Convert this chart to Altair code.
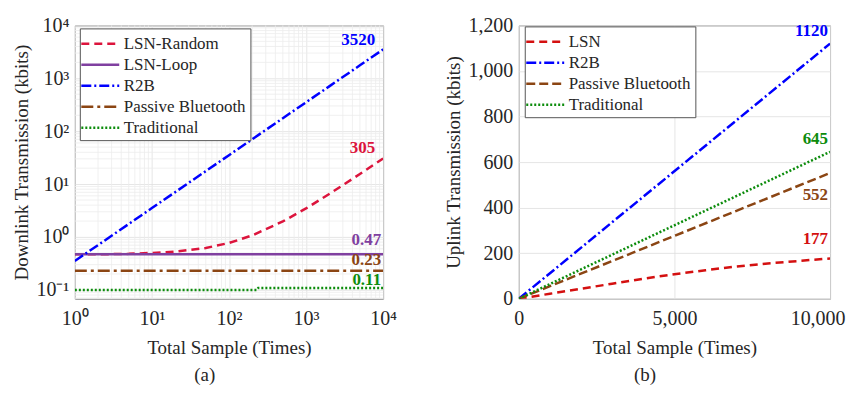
import altair as alt
import pandas as pd

FONT = "Liberation Serif"
TXT = "#262626"

# ---------------- Panel (a): downlink, log-log ----------------
a_series = ["LSN-Random", "LSN-Loop", "R2B", "Passive Bluetooth", "Traditional"]
a_colors = ["#dc143c", "#8040a0", "#0000ff", "#8b4513", "#0c8c0c"]
a_dashes = [[8, 5], [1, 0], [10, 3, 2, 3], [12, 4, 3, 4], [2, 2]]

a_n = [1, 2, 5, 10, 20, 50, 100, 200, 500, 1000, 2000, 5000, 10000]
a_lsn_random = [0.47, 0.47, 0.48, 0.50, 0.53, 0.62, 0.77, 1.07, 1.97, 3.47, 6.5, 15.5, 30.5]
a_lsn_loop = [0.47, 0.47, 0.47, 0.47, 0.47, 0.47, 0.47, 0.47, 0.47, 0.47, 0.47, 0.47, 0.47]
a_r2b = [0.352, 0.704, 1.76, 3.52, 7.04, 17.6, 35.2, 70.4, 176, 352, 704, 1760, 3520]
a_passive = [0.23, 0.23, 0.23, 0.23, 0.23, 0.23, 0.23, 0.23, 0.23, 0.23, 0.23, 0.23, 0.23]
a_trad_n = [1, 10, 100, 230, 240, 1000, 10000]
a_trad = [0.100, 0.100, 0.100, 0.100, 0.109, 0.109, 0.109]
a_end_labels = ["305", "0.47", "3520", "0.23", "0.11"]

a_major = [0.1, 1, 10, 100, 1000, 10000]
a_minor_x = [2, 3, 4, 5, 6, 7, 8, 9, 20, 30, 40, 50, 60, 70, 80, 90,
             200, 300, 400, 500, 600, 700, 800, 900, 2000, 3000, 4000, 5000, 6000, 7000, 8000, 9000]
a_minor_y = [0.07, 0.08, 0.09, 0.2, 0.3, 0.4, 0.5, 0.6, 0.7, 0.8, 0.9] + a_minor_x

# ---------------- Panel (b): uplink, linear ----------------
b_series = ["LSN", "R2B", "Passive Bluetooth", "Traditional"]
b_colors = ["#d41010", "#0000ff", "#8b4513", "#0c8c0c"]
b_dashes = [[8, 5], [10, 3, 2, 3], [9, 4], [2, 2]]

b_n = [0, 10000]
b_r2b = [0, 1120]
b_passive = [0, 552]
b_trad = [0, 645]
b_lsn_n = [0, 1000, 2000, 3000, 4000, 5000, 6000, 7000, 8000, 9000, 10000]
b_lsn = [0, 22, 44, 66, 88, 108, 125, 142, 155, 166, 177]
b_end_labels = ["177", "1120", "552", "645"]


def long_df(pairs):
    rows = []
    for name, xs, ys in pairs:
        for x, y in zip(xs, ys):
            rows.append({"series": name, "x": x, "y": y})
    return pd.DataFrame(rows)


df_a = long_df([
    ("LSN-Random", a_n, a_lsn_random),
    ("LSN-Loop", a_n, a_lsn_loop),
    ("R2B", a_n, a_r2b),
    ("Passive Bluetooth", a_n, a_passive),
    ("Traditional", a_trad_n, a_trad),
])
df_b = long_df([
    ("LSN", b_lsn_n, b_lsn),
    ("R2B", b_n, b_r2b),
    ("Passive Bluetooth", b_n, b_passive),
    ("Traditional", b_n, b_trad),
])


def make_legend(lx, ly):
    return alt.Legend(
        title=None, orient="none", legendX=lx, legendY=ly, labelFont=FONT, labelFontSize=17,
        labelColor=TXT, fillColor="white", strokeColor="#555555", padding=4,
        symbolType="M-1.9,0L1.9,0", symbolSize=400, symbolStrokeWidth=2.5,
        symbolOffset=5, labelOffset=12, rowPadding=1, labelLimit=300,
    )


sup = {"0.1": "10⁻¹", "1": "10⁰", "10": "10¹", "100": "10²", "1000": "10³", "10000": "10⁴"}
expr = "''"
for k, v in reversed(list(sup.items())):
    expr = f"datum.value == {k} ? '{v}' : ({expr})"

# ----- panel a -----
sx_a = alt.Scale(type="log", domain=[1, 10000], nice=False)
sy_a = alt.Scale(type="log", domain=[0.068, 10000], nice=False)
ax_xa = alt.Axis(values=[1, 10, 100, 1000, 10000], labelExpr=expr, title="Total Sample (Times)")
ax_ya = alt.Axis(values=a_major, labelExpr=expr, title="Downlink Transmission (kbits)")
leg_a = make_legend(5, 3)

minor_x = alt.Chart(pd.DataFrame({"v": a_minor_x})).mark_rule(color="#ececec", strokeWidth=0.8).encode(
    x=alt.X("v:Q", scale=sx_a, axis=ax_xa))
minor_y = alt.Chart(pd.DataFrame({"v": [v for v in a_minor_y if v >= 0.068]})).mark_rule(
    color="#ececec", strokeWidth=0.8).encode(y=alt.Y("v:Q", scale=sy_a, axis=ax_ya))

lines_a = alt.Chart(df_a).mark_line(strokeWidth=2.5, clip=True).encode(
    x=alt.X("x:Q", scale=sx_a, axis=ax_xa),
    y=alt.Y("y:Q", scale=sy_a, axis=ax_ya),
    color=alt.Color("series:N", scale=alt.Scale(domain=a_series, range=a_colors), legend=leg_a),
    strokeDash=alt.StrokeDash("series:N", scale=alt.Scale(domain=a_series, range=a_dashes), legend=leg_a),
    order=alt.Order("x:Q"),
)

a_offsets = {"305": (-8, -1), "0.47": (-2, -5), "3520": (-8, 0), "0.23": (-2, -2), "0.11": (-2, 1)}
texts_a = []
for name, lab, col in zip(a_series, a_end_labels, a_colors):
    sub = df_a[df_a.series == name].sort_values("x").tail(1).assign(label=lab)
    dx, dy = a_offsets[lab]
    texts_a.append(alt.Chart(sub).mark_text(font=FONT, fontSize=17, fontWeight="bold", align="right",
                                             baseline="bottom", dx=dx, dy=dy, color=col).encode(
        x=alt.X("x:Q", scale=sx_a, axis=ax_xa), y=alt.Y("y:Q", scale=sy_a, axis=ax_ya), text="label:N"))

panel_a = alt.layer(minor_x, minor_y, lines_a, *texts_a).properties(
    width=309, height=274,
    title=alt.TitleParams("(a)", orient="bottom", frame="bounds", anchor="middle", fontSize=19,
                          font=FONT, fontWeight="normal", color=TXT, offset=8),
)

# ----- panel b -----
sx_b = alt.Scale(domain=[0, 10000], nice=False)
sy_b = alt.Scale(domain=[0, 1200], nice=False)
ax_xb = alt.Axis(
    values=[0, 5000, 10000], format=",.0f", title="Total Sample (Times)",
    labelAlign={"condition": {"test": "datum.value == 10000", "value": "right"}, "value": "center"},
    labelOffset={"condition": {"test": "datum.value == 10000", "value": 15}, "value": 0},
)
ax_yb = alt.Axis(values=[0, 200, 400, 600, 800, 1000, 1200], format=",.0f",
                 title="Uplink Transmission (kbits)")
leg_b = make_legend(6, 1)

lines_b = alt.Chart(df_b).mark_line(strokeWidth=2.5, clip=True).encode(
    x=alt.X("x:Q", scale=sx_b, axis=ax_xb),
    y=alt.Y("y:Q", scale=sy_b, axis=ax_yb),
    color=alt.Color("series:N", scale=alt.Scale(domain=b_series, range=b_colors), legend=leg_b),
    strokeDash=alt.StrokeDash("series:N", scale=alt.Scale(domain=b_series, range=b_dashes), legend=leg_b),
    order=alt.Order("x:Q"),
)

b_offsets = {"177": (-2, -10, "bottom"), "1120": (-2, -4, "bottom"), "552": (-2, 14, "top"), "645": (-2, -4, "bottom")}
texts_b = []
for name, lab, col in zip(b_series, b_end_labels, b_colors):
    sub = df_b[df_b.series == name].sort_values("x").tail(1).assign(label=lab)
    dx, dy, bl = b_offsets[lab]
    texts_b.append(alt.Chart(sub).mark_text(font=FONT, fontSize=17, fontWeight="bold", align="right",
                                             baseline=bl, dx=dx, dy=dy, color=col).encode(
        x=alt.X("x:Q", scale=sx_b, axis=ax_xb), y=alt.Y("y:Q", scale=sy_b, axis=ax_yb), text="label:N"))

panel_b = alt.layer(lines_b, *texts_b).properties(
    width=312, height=274,
    title=alt.TitleParams("(b)", orient="bottom", frame="bounds", anchor="middle", fontSize=19,
                          font=FONT, fontWeight="normal", color=TXT, offset=8),
)

chart = alt.hconcat(panel_a, panel_b, spacing=47).resolve_scale(
    color="independent", strokeDash="independent"
).properties(
    padding={"left": 4, "top": 6, "right": 0, "bottom": 0}
).configure(font=FONT).configure_view(stroke="#8a8a8a", strokeWidth=1).configure_axis(
    labelFont=FONT, labelFontSize=20, labelColor=TXT, titleFont=FONT, titleFontSize=19,
    titleColor=TXT, titleFontWeight="normal", grid=True, gridColor="#dedede", gridWidth=0.8,
    domain=False, ticks=False, labelFlush=False,
).configure_axisX(labelPadding=10, titlePadding=10).configure_axisY(
    labelPadding=6, titlePadding=4
).configure_legend(
    labelFont=FONT, labelFontSize=17, cornerRadius=0,
)

chart.save("out.html", embed_options={"renderer": "svg", "actions": False})
